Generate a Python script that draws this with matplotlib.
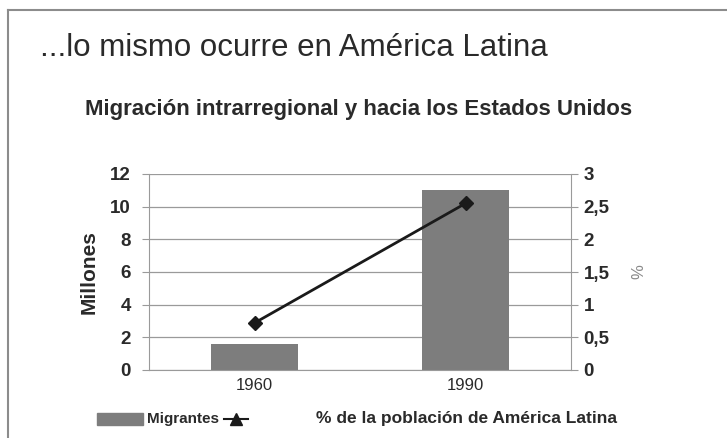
import matplotlib
matplotlib.use("Agg")
import matplotlib.pyplot as plt
from matplotlib.patches import Rectangle
from matplotlib.lines import Line2D

plt.rcParams["font.family"] = ["Liberation Sans", "DejaVu Sans"]

anios = ["1960", "1990"]
migrantes = [1.6, 11.05]          # millones
porcentaje = [0.72, 2.55]         # % de la población de América Latina
ticks_izq = [0, 2, 4, 6, 8, 10, 12]
ticks_der = [0, 0.5, 1, 1.5, 2, 2.5, 3]
etiquetas_der = ["0", "0,5", "1", "1,5", "2", "2,5", "3"]

W, H = 727, 438
fig = plt.figure(figsize=(W / 100, H / 100), dpi=100)
fig.patch.set_facecolor("white")

def fx(px):
    return px / W

def fy(py):
    return 1 - py / H

# marco exterior: solo arriba e izquierda
fig.add_artist(Line2D([fx(8), fx(727)], [fy(10), fy(10)], color="#8c8c8c",
                      linewidth=1.5, transform=fig.transFigure))
fig.add_artist(Line2D([fx(8), fx(8)], [fy(10), fy(438)], color="#8c8c8c",
                      linewidth=1.5, transform=fig.transFigure))

txt = "#2a2a2a"
fig.text(fx(40), fy(48), "...lo mismo ocurre en América Latina",
         fontsize=22.5, color=txt, va="center", ha="left")
fig.text(fx(359), fy(110),
         "Migración intrarregional y hacia los Estados Unidos",
         fontsize=16, fontweight="bold", color=txt,
         va="center", ha="center")

ax = fig.add_axes([fx(149), fy(370), 422 / W, 196 / H])
x = [0, 1]
ax.bar(x, migrantes, width=0.41, color="#7d7d7d", zorder=2)
ax.set_xlim(-0.5, 1.5)
ax.set_ylim(0, 12)
ax.set_yticks(ticks_izq)
ax.set_xticks(x)
ax.set_xticklabels(anios)
ax.grid(axis="y", color="#9a9a9a", linewidth=0.9, zorder=0)
ax.set_axisbelow(True)
for s in ["top", "right"]:
    ax.spines[s].set_visible(False)
ax.spines["left"].set_color("#9a9a9a")
ax.spines["bottom"].set_color("#9a9a9a")
ax.tick_params(axis="y", labelsize=13.5, colors="#9a9a9a", labelcolor=txt,
               length=5, pad=8)
for t in ax.get_yticklabels():
    t.set_fontweight("bold")
ax.tick_params(axis="x", length=0, labelsize=12, labelcolor=txt, pad=6)
ax.set_ylabel("Millones", fontsize=15, fontweight="bold", color=txt,
              labelpad=8)

ax2 = ax.twinx()
ax2.plot(x, porcentaje, color="#1a1a1a", linewidth=2, marker="D",
         markersize=7, zorder=3)
ax2.set_ylim(0, 3)
ax2.set_yticks(ticks_der)
ax2.set_yticklabels(etiquetas_der)
for s in ["top", "left", "bottom"]:
    ax2.spines[s].set_visible(False)
ax2.spines["right"].set_color("#9a9a9a")
ax2.tick_params(axis="y", labelsize=13.5, colors="#9a9a9a", labelcolor=txt,
                length=5, pad=4)
for t in ax2.get_yticklabels():
    t.set_fontweight("bold")
ax2.set_ylabel("%", fontsize=12, color="#8a8a8a", rotation=90, labelpad=16)

# leyenda dibujada a mano
ley_y = fy(419)
fig.add_artist(Rectangle((fx(97), fy(425)), 46 / W, 12 / H, color="#7d7d7d",
                         transform=fig.transFigure))
fig.text(fx(147), ley_y, "Migrantes", fontsize=11, fontweight="bold",
         color=txt, va="center", ha="left")
fig.add_artist(Line2D([fx(224), fx(248)], [ley_y, ley_y], color="#1a1a1a",
                      linewidth=1.5, transform=fig.transFigure))
fig.add_artist(Line2D([fx(236)], [ley_y], color="#1a1a1a", marker="^",
                      markersize=8, transform=fig.transFigure))
fig.text(fx(316), ley_y, "% de la población de América Latina",
         fontsize=12.5, fontweight="bold", color=txt, va="center", ha="left")

fig.savefig("out.png", dpi=100, facecolor="white")
